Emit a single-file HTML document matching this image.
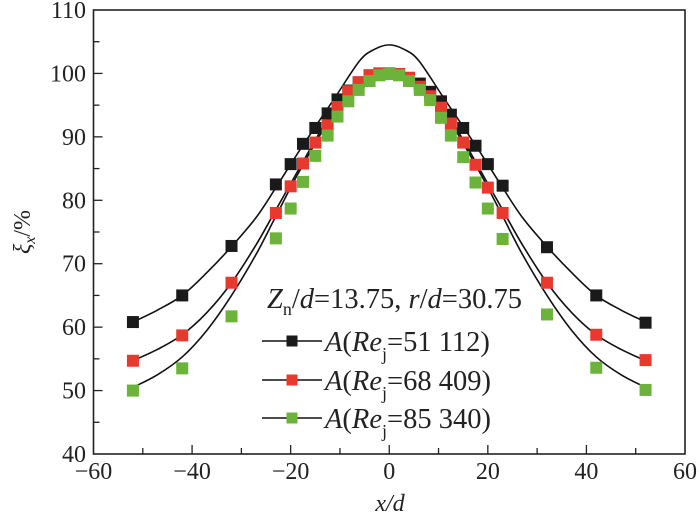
<!DOCTYPE html>
<html><head><meta charset="utf-8"><style>
html,body{margin:0;padding:0;background:#fff;}
svg{display:block;font-family:"Liberation Serif",serif;}
</style></head><body>
<svg id="chart" width="700" height="517" xmlns="http://www.w3.org/2000/svg"></svg>
<script>
const xPoints = [-52,-42,-32,-23,-20,-17.5,-15,-12.5,-10.5,-8.3,-6.2,-4,-2,0,2,4,6.2,8.3,10.5,12.5,15,17.5,20,23,32,42,52];
const blackVals = [60.8,65,72.8,82.5,85.7,88.9,91.4,93.7,95.9,97.3,98.6,99.7,100,100,99.9,99.3,98.4,97.1,95.6,93.5,91.4,88.6,85.7,82.3,72.6,65,60.7];
const redVals = [54.7,58.7,67,78,82.2,85.8,89.1,91.8,94.7,97.2,98.6,99.7,100,100,99.9,99.3,97.9,96.4,94.6,92.1,89.1,85.6,82,78,67,58.8,54.8];
const greenVals = [50,53.5,61.7,74,78.7,82.9,87,90.2,93.2,95.6,97.4,98.8,99.7,99.9,99.7,98.8,97.4,95.8,93,90.2,86.8,82.8,78.7,73.9,62,53.6,50.1];
const curveX = [-52,-47,-42,-37,-32,-27,-23,-19,-15,-11,-6,-3,0,3,6,11,15,19,23,27,32,37,42,47,52];
const blackCurve = [60.8,62.7,65,68.6,72.7,77.3,82,86.9,91.6,96.2,102,103.8,104.5,103.8,102,96.2,91.6,86.9,82,77.3,72.7,68.6,65,62.7,60.8];
const redCurve = [54.7,56.5,58.8,62.3,67,73,78.5,84,89.5,94.5,98.5,100,100.5,100,98.5,94.5,89.5,84,78.5,73,67,62.3,58.8,56.5,54.7];
const greenCurve = [50.5,52.5,55.3,59.5,65,71.5,77.5,83.5,89,94,98.2,99.7,100.2,99.7,98.2,94,89,83.5,77.5,71.5,65,59.5,55.3,52.5,50.5];
const xTicks = [-60,-40,-20,0,20,40,60];
const yTicks = [40,50,60,70,80,90,100,110];

const NS="http://www.w3.org/2000/svg";
const svg=document.getElementById('chart');
const L=93.5,R=685,T=10,B=454;
const sx=v=>L+(v+60)/120*(R-L);
const sy=v=>B-(v-40)/70*(B-T);
function mk(tag,attrs,parent){const e=document.createElementNS(NS,tag);for(const k in attrs)e.setAttribute(k,attrs[k]);(parent||svg).appendChild(e);return e;}

const frame=mk('rect',{x:L,y:T,width:R-L,height:B-T,fill:'none',stroke:'#222','stroke-width':1.6});



for(let v=-50;v<=50;v+=10){
  const major=v%20===0;
  const t=mk('line',{x1:sx(v),x2:sx(v),y1:B,y2:B-(major?9:6),stroke:'#222','stroke-width':1.3});
  
  
}
for(let v=45;v<110;v+=5){
  const major=v%10===0;
  const t=mk('line',{x1:L,x2:L+(major?9:6),y1:sy(v),y2:sy(v),stroke:'#222','stroke-width':1.3});
  
  
}
xTicks.forEach(v=>{
  const t=mk('text',{x:sx(v),y:479,'font-size':24,'text-anchor':'middle',fill:'#222'});
  t.textContent=(v<0?'\u2212'+(-v):String(v));
  
  
});
yTicks.forEach(v=>{
  const l=mk('text',{x:86,y:sy(v)+8,'font-size':24,'text-anchor':'end',fill:'#222'});
  l.textContent=String(v);
  
  
});

const xt=mk('text',{x:390,y:511,'font-size':24,'text-anchor':'middle','font-style':'italic',fill:'#222'});
xt.textContent='x/d';


const yt=mk('text',{transform:'translate(30,232) rotate(-90)','font-size':24,'text-anchor':'middle',fill:'#222'});
yt.innerHTML='<tspan font-style="italic">ξ</tspan><tspan font-style="italic" font-size="16" dy="5">x</tspan><tspan dy="-5">/%</tspan>';



function smooth(xs,ys){
  const p=xs.map((x,i)=>[sx(x),sy(ys[i])]);
  let d='M'+p[0][0]+','+p[0][1];
  for(let i=0;i<p.length-1;i++){
    const p0=p[i-1]||p[i],p1=p[i],p2=p[i+1],p3=p[i+2]||p2;
    const c1=[p1[0]+(p2[0]-p0[0])/6,p1[1]+(p2[1]-p0[1])/6];
    const c2=[p2[0]-(p3[0]-p1[0])/6,p2[1]-(p3[1]-p1[1])/6];
    d+='C'+c1+' '+c2+' '+p2;
  }
  return d;
}
const curves=[[blackCurve,'black'],[redCurve,'red'],[greenCurve,'green']];
curves.forEach(([ys,n])=>{
  const c=mk('path',{d:smooth(curveX,ys),fill:'none',stroke:'#111','stroke-width':1.6});
  
  
});
const series=[[blackVals,'#1a1a1a','black'],[redVals,'#e8392f','red'],[greenVals,'#6bb33a','green']];
series.forEach(([ys,col,n])=>{
  xPoints.forEach((x,i)=>{
    const r=mk('rect',{x:sx(x)-6,y:sy(ys[i])-6,width:12,height:12,fill:col});
    
    
  });
});

const lh=mk('text',{x:267,y:308,'font-size':28.5,fill:'#222'});
lh.innerHTML='<tspan font-style="italic">Z</tspan><tspan font-size="18" dy="7">n</tspan><tspan dy="-7">/</tspan><tspan font-style="italic">d</tspan>=13.75, <tspan font-style="italic">r</tspan>/<tspan font-style="italic">d</tspan>=30.75';


const legendLabels=['51 112','68 409','85 340'];
const legendY=[341,380,418];
series.forEach(([ys,col,n],i)=>{
  const y=legendY[i];
  const ln=mk('line',{x1:262,x2:322,y1:y,y2:y,stroke:'#111','stroke-width':1.6});
  
  
  const m=mk('rect',{x:286.5,y:y-5.5,width:11,height:11,fill:col});
  
  
  const t=mk('text',{x:325,y:y+10,'font-size':28.5,fill:'#222'});
  t.innerHTML='<tspan font-style="italic">A</tspan>(<tspan font-style="italic">Re</tspan><tspan font-size="18" dy="9">j</tspan><tspan dy="-9">='+legendLabels[i]+')</tspan>';
  
  
});
</script>
</body></html>
